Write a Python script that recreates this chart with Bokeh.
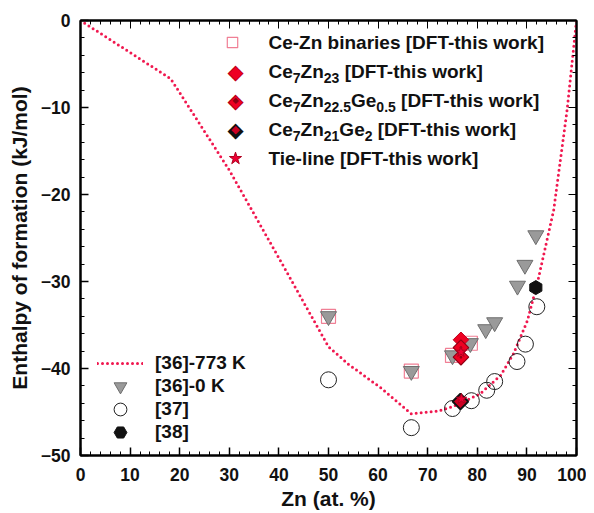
import math
from bokeh.plotting import figure
from bokeh.models import Legend, LegendItem, LinearAxis, Range1d, FixedTicker, Label
from bokeh.embed import file_html
from bokeh.resources import INLINE

# [36]-773 K calculated curve
line_x = [0, 18.2, 30, 40, 50, 54, 60.5, 66.7, 72, 75, 80.6, 84.7, 87.3, 90.1, 92.1, 95.4, 98.1, 100]
line_y = [0, -6.7, -17.2, -27.3, -37.5, -39.5, -42.2, -45.2, -44.9, -44.4, -42.9, -40.8, -38.3, -34.5, -30.2, -21.8, -10.3, 0]

# [36]-0 K
tri_x = [50, 66.7, 75, 78.6, 81.7, 83.5, 88.1, 89.6, 91.8]
tri_y = [-34.0, -40.3, -38.5, -37.1, -35.5, -34.7, -30.5, -28.1, -24.7]

# [37]
circ_x = [50, 66.7, 75, 78.8, 81.9, 83.5, 88.0, 89.7, 92.0]
circ_y = [-41.3, -46.8, -44.6, -43.7, -42.5, -41.5, -39.2, -37.2, -32.9]

# [38]
hex_x = [91.8]
hex_y = [-30.7]

# Ce-Zn binaries [DFT-this work]
sq_x = [50, 66.7, 75, 78.6]
sq_y = [-34.0, -40.3, -38.5, -37.1]

# Ce7Zn23
d1_x = [76.7]
d1_y = [-36.7]
# Ce7Zn22.5Ge0.5
d2_x = [76.7, 76.7]
d2_y = [-37.6, -38.7]
# Ce7Zn21Ge2
d3_x = [76.6]
d3_y = [-43.8]
# Tie-line
st_x = [76.7, 76.8]
st_y = [-38.1, -43.5]

x_ticks = [0, 10, 20, 30, 40, 50, 60, 70, 80, 90, 100]
y_ticks = [0, -10, -20, -30, -40, -50]

# legend label pieces: (text, is_subscript)
leg1_labels = [
    [("Ce-Zn binaries [DFT-this work]", 0)],
    [("Ce", 0), ("7", 1), ("Zn", 0), ("23", 1), (" [DFT-this work]", 0)],
    [("Ce", 0), ("7", 1), ("Zn", 0), ("22.5", 1), ("Ge", 0), ("0.5", 1), (" [DFT-this work]", 0)],
    [("Ce", 0), ("7", 1), ("Zn", 0), ("21", 1), ("Ge", 0), ("2", 1), (" [DFT-this work]", 0)],
    [("Tie-line [DFT-this work]", 0)],
]
leg2_labels = ["[36]-773 K", "[36]-0 K", "[37]", "[38]"]

FONT = "Liberation Sans"
RED = "#f0184f"
TXT = "#111111"
LEG_FS = 19
SUB_FS = 14

# Arial/Liberation Sans Bold advance widths (per 1000 em)
W = {"C": 722, "e": 556, "Z": 611, "n": 611, "G": 778, ".": 278, " ": 278, "[": 333, "]": 333,
     "D": 722, "F": 611, "T": 611, "-": 333, "t": 333, "h": 611, "i": 278, "s": 556, "w": 778,
     "o": 611, "r": 389, "k": 556}
def text_w(s, fs):
    return sum(W.get(ch, 556) for ch in s) * fs / 1000.0

FRAME_W, FRAME_H = 496, 435
p = figure(width=586, height=512, output_backend="svg", toolbar_location=None,
           x_range=Range1d(0, 100), y_range=Range1d(-50, 0),
           min_border_left=80, min_border_top=20, min_border_right=10, min_border_bottom=57)
p.background_fill_color = "white"
p.border_fill_color = "white"
p.outline_line_color = "black"
p.outline_line_width = 2
p.grid.visible = False

for ax in (p.xaxis[0], p.yaxis[0]):
    ax.axis_line_width = 2
    ax.major_tick_in = 8
    ax.major_tick_out = 0
    ax.minor_tick_in = 4
    ax.minor_tick_out = 0
    ax.major_tick_line_width = 1.5
    ax.minor_tick_line_width = 1
    ax.major_label_text_font = FONT
    ax.major_label_text_font_style = "bold"
    ax.major_label_text_font_size = "17.5px"
    ax.major_label_text_color = TXT
    ax.axis_label_text_font = FONT
    ax.axis_label_text_font_style = "bold"
    ax.axis_label_text_font_size = "21px"
    ax.axis_label_text_color = TXT

p.xaxis[0].ticker = FixedTicker(ticks=x_ticks, minor_ticks=list(range(0, 101, 2)))
p.yaxis[0].ticker = FixedTicker(ticks=y_ticks, minor_ticks=list(range(-50, 1, 2)))
p.xaxis[0].axis_label = "Zn (at. %)"
p.yaxis[0].axis_label = "Enthalpy of formation (kJ/mol)"
p.xaxis[0].major_label_standoff = 12
p.yaxis[0].major_label_standoff = 10
p.xaxis[0].axis_label_standoff = 3
p.yaxis[0].axis_label_standoff = 7

top = LinearAxis(ticker=FixedTicker(ticks=x_ticks, minor_ticks=list(range(0, 101, 2))),
                 major_label_text_font_size="0px", major_tick_in=8, major_tick_out=0,
                 minor_tick_in=4, minor_tick_out=0, axis_line_width=2, major_label_standoff=0)
right = LinearAxis(ticker=FixedTicker(ticks=y_ticks, minor_ticks=list(range(-50, 1, 2))),
                   major_label_text_font_size="0px", major_tick_in=8, major_tick_out=0,
                   minor_tick_in=4, minor_tick_out=0, axis_line_width=2, major_label_standoff=0)
p.add_layout(top, "above")
p.add_layout(right, "right")

ROT = math.pi / 4
r_line = p.line(line_x, line_y, line_color=RED, line_width=3, line_dash="0 5", line_cap="round")
r_sq = p.scatter(sq_x, sq_y, marker="square", size=14, fill_color=None, line_color="#f07f95", line_width=1.2)
r_tri = p.scatter(tri_x, tri_y, marker="inverted_triangle", size=16, fill_color="#9a9a9a", line_color="#6e6e6e", line_width=1)
r_circ = p.scatter(circ_x, circ_y, marker="circle", size=16, fill_color=None, line_color="#222222", line_width=1)
r_hex = p.scatter(hex_x, hex_y, marker="hex", size=14, fill_color="#111111", line_color="#111111", angle=0.52)
r_d1 = p.scatter(d1_x, d1_y, marker="square", angle=ROT, size=11, fill_color="#ee0022", line_color="#c0001a", line_width=1)
r_d2 = p.scatter(d2_x, d2_y, marker="square_dot", angle=ROT, size=11, fill_color="#ee0022", line_color="#900015", line_width=1.2)
r_d3 = p.scatter(d3_x, d3_y, marker="square", angle=ROT, size=11, fill_color="#cc0022", line_color="#111111", line_width=2)
r_st = p.scatter(st_x, st_y, marker="star", size=11, fill_color="#ee0033", line_color="#b00020", line_width=1)


def px_to_data(xpx, ypx):
    """frame pixel offsets (from left, from top) -> data coordinates"""
    return xpx / FRAME_W * 100.0, -ypx / FRAME_H * 50.0


def row_legend(renderer, label, left_px, center_px, gw, gh, standoff):
    """One-entry legend, positioned relative to the frame (px from left, px of row centre from top)."""
    lg = Legend(items=[LegendItem(label=label, renderers=[renderer])],
                location=(left_px, FRAME_H - center_px - gh / 2.0),
                glyph_width=gw, glyph_height=gh, label_height=gh, label_standoff=standoff,
                padding=0, spacing=0, margin=0, border_line_color=None, background_fill_alpha=0,
                label_text_font=FONT, label_text_font_style="bold",
                label_text_font_size="%dpx" % LEG_FS, label_text_color=TXT)
    p.add_layout(lg, "center")


def symbol(text, xpx, ypx, color, size):
    xd, yd = px_to_data(xpx, ypx)
    p.add_layout(Label(x=xd, y=yd, text=text, text_font="DejaVu Sans", text_font_size="%dpx" % size,
                       text_color=color, text_align="center", text_baseline="middle"))


# legend 1 (top right): glyph centre 155 px from frame left, rows every 29 px
L1_GW = L1_GH = 32
L1_CX = 155
L1_TEXT = 188
for i, pieces in enumerate(leg1_labels):
    cy = 22 + 29 * i
    if i == 0:
        row_legend(r_sq, " ", L1_CX - L1_GW / 2.0, cy, 26, 26, 0)
    elif i == 4:
        row_legend(r_st, " ", L1_CX - L1_GW / 2.0, cy, L1_GW, L1_GH, 0)
    elif i == 1:
        symbol("\u25C6", L1_CX, cy, "#c0001a", 21)
        symbol("\u25C6", L1_CX, cy, "#ee0022", 17)
    elif i == 2:
        symbol("\u25C6", L1_CX, cy, "#b00018", 21)
        symbol("\u25C6", L1_CX, cy, "#ee0022", 17)
        symbol("\u25C6", L1_CX, cy, "#8a0012", 8)
    else:
        symbol("\u25C6", L1_CX, cy, "#111111", 21)
        symbol("\u25C6", L1_CX, cy, "#cc0022", 11)
    xd, yd = px_to_data(L1_TEXT, cy)
    off = 0.0
    for txt, sub in pieces:
        fs = SUB_FS if sub else LEG_FS
        lead = len(txt) - len(txt.lstrip(" "))
        off += text_w(" " * lead, fs)
        body = txt.lstrip(" ")
        p.add_layout(Label(x=xd, y=yd, text=body, x_offset=off, y_offset=(-6 if sub else 0),
                           text_font=FONT, text_font_style="bold", text_font_size="%dpx" % fs,
                           text_color=TXT, text_baseline="middle", text_align="left"))
        off += text_w(body, fs)

# legend 2 (bottom left): sample 17..63 px, text at 75 px, rows every 23 px
leg2_r = [r_line, r_tri, r_circ, r_hex]
for i, (rend, lab) in enumerate(zip(leg2_r, leg2_labels)):
    row_legend(rend, lab, 17, 343 + 23 * i, 46, 32, 12)

open("out.html", "w").write(file_html(p, INLINE))
